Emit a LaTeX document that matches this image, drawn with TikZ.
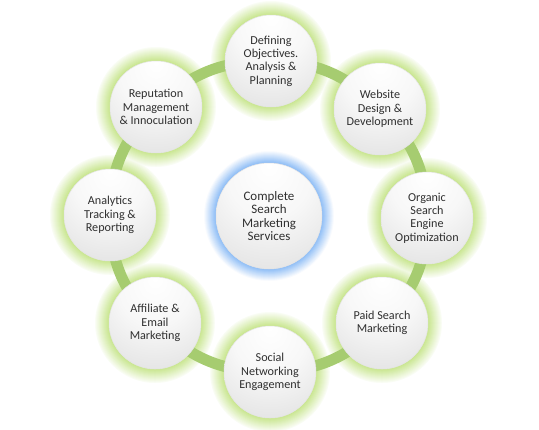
\documentclass[tikz,border=0pt]{standalone}
\usepackage{fontspec}
\setmainfont{Carlito}
\definecolor{ringg}{RGB}{166,204,112}
\definecolor{glowg}{RGB}{198,229,138}
\definecolor{glowb}{RGB}{130,182,245}
\definecolor{txtc}{RGB}{48,48,48}
\pgfdeclareradialshading{ballshade}{\pgfpoint{0bp}{24bp}}{%
  color(0bp)=(white); color(20bp)=(white!97!black); color(50bp)=(white!86!black);
  color(74bp)=(white!72!black); color(90bp)=(white!70!black)}
\pgfdeclarelayer{glowlayer}
\pgfdeclarelayer{ringlayer}
\pgfsetlayers{glowlayer,ringlayer,main}
\tikzset{
  ball/.style={circle, minimum size=92bp, inner sep=0pt, shading=ballshade,
    draw=white!90!black, line width=0.5bp, align=center, text=txtc,
    font=\fontsize{12.2}{13.4}\selectfont},
  hub/.style={ball, minimum size=106bp, font=\fontsize{13}{13.6}\selectfont},
  ringline/.style={draw=ringg, line width=11bp}
}
\begin{document}
\begin{tikzpicture}[x=1bp,y=-1bp]
\useasboundingbox (0,0) rectangle (539,429);
\node[hub] (c) at (269,216) {Complete\\Search\\Marketing\\Services};
\node[ball] (n1) at (271,61) {Defining\\Objectives.\\Analysis \&\\Planning};
\node[ball] (n2) at (380,109) {Website\\Design \&\\Development};
\node[ball] (n3) at (427,218) {Organic\\Search\\Engine\\Optimization};
\node[ball] (n4) at (382,323) {Paid Search\\Marketing};
\node[ball] (n5) at (270,372) {Social\\Networking\\Engagement};
\node[ball] (n6) at (155,323) {Affiliate \&\\Email\\Marketing};
\node[ball] (n7) at (110,215) {Analytics\\Tracking \&\\Reporting};
\node[ball] (n8) at (156,107) {Reputation\\Management\\\& Innoculation};
\begin{pgfonlayer}{ringlayer}
\draw[ringline] (n1.center) to[bend left=22.5] (n2.center) to[bend left=22.5] (n3.center)
  to[bend left=22.5] (n4.center) to[bend left=22.5] (n5.center) to[bend left=22.5] (n6.center)
  to[bend left=22.5] (n7.center) to[bend left=22.5] (n8.center) to[bend left=22.5] (n1.center);
\end{pgfonlayer}
\begin{pgfonlayer}{glowlayer}
\foreach \k in {14,13,...,0}{
  \pgfmathsetmacro{\pc}{100-6.5*\k}
  \foreach \n in {n1,n2,n3,n4,n5,n6,n7,n8}{
    \fill[glowg!\pc!white] (\n.center) circle[radius=46+\k];
  }
}
\foreach \k in {12,11,...,0}{
  \pgfmathsetmacro{\pc}{95-7.5*\k}
  \fill[glowb!\pc!white] (c.center) circle[radius=53+\k];
}
\end{pgfonlayer}
\end{tikzpicture}
\end{document}
